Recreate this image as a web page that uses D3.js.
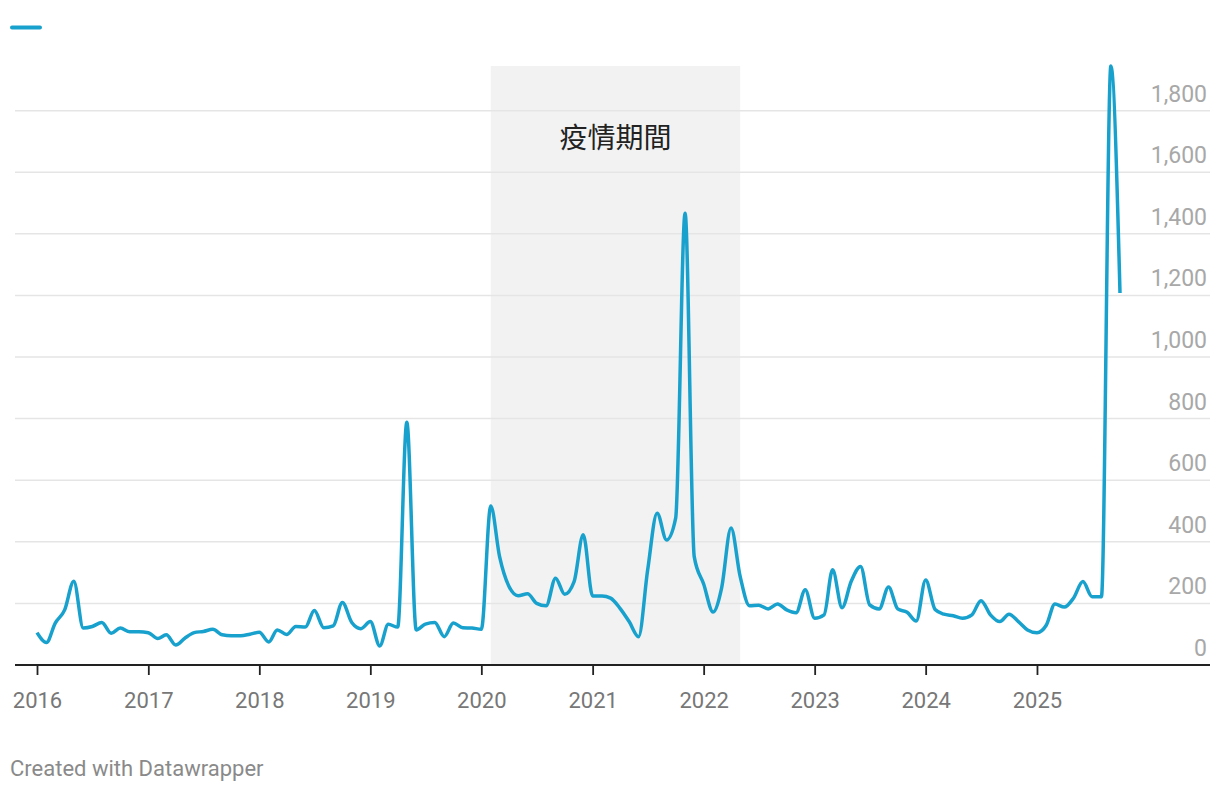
<!DOCTYPE html>
<html>
<head>
<meta charset="utf-8">
<script src="https://cdn.jsdelivr.net/npm/d3@7"></script>
<style>
  body { margin: 0; background: #fff; }
  svg { display: block; font-family: Roboto, "Noto Sans CJK TC", sans-serif; }
</style>
</head>
<body>
<svg id="chart" width="1220" height="792"></svg>
<script>
var years = [2016, 2017, 2018, 2019, 2020, 2021, 2022, 2023, 2024, 2025];

// monthly values, Jan 2016 .. Oct 2025
var values2016 = [105, 73, 136, 179, 272, 120, 125, 138, 103, 120, 108, 108];
var values2017 = [105, 86, 98, 65, 87, 105, 109, 116, 98, 95, 95, 100];
var values2018 = [106, 75, 114, 99, 125, 123, 177, 121, 127, 203, 138, 118];
var values2019 = [141, 62, 132, 123, 788, 114, 133, 138, 92, 136, 121, 120];
var values2020 = [116, 516, 352, 255, 225, 231, 200, 192, 282, 230, 271, 423];
var values2021 = [224, 224, 217, 184, 141, 92, 309, 493, 406, 477, 1467, 352];
var values2022 = [263, 172, 250, 445, 288, 192, 194, 182, 198, 179, 170, 244];
var values2023 = [152, 163, 309, 186, 271, 320, 195, 182, 253, 182, 171, 143];
var values2024 = [276, 180, 165, 160, 152, 163, 209, 163, 141, 165, 141, 114];
var values2025 = [105, 130, 198, 188, 217, 271, 222, 222, 1945, 1208];

var yTicks = [0, 200, 400, 600, 800, 1000, 1200, 1400, 1600, 1800];

var pandemicStart = new Date(2020, 1, 1);
var pandemicEnd = new Date(2022, 4, 1);
var pandemicLabel = "疫情期間";

var blue = "#18a1cd";

function buildData() {
  var all = [values2016, values2017, values2018, values2019, values2020,
             values2021, values2022, values2023, values2024, values2025];
  var data = [];
  for (var i = 0; i < all.length; i++) {
    for (var m = 0; m < all[i].length; m++) {
      data.push({date: new Date(years[i], m, 1), value: all[i][m]});
    }
  }
  return data;
}

function drawChart() {
  var data = buildData();
  var svg = d3.select("#chart");

  var left = 15, right = 1210, top = 66, bottom = 665;

  var x = d3.scaleTime()
    .domain([data[0].date, data[data.length - 1].date])
    .range([37, 1120]);

  var y = d3.scaleLinear()
    .domain([0, d3.max(data, function(d){ return d.value; })])
    .range([bottom, top]);

  // highlighted range
  svg.append("rect")
    .attr("x", x(pandemicStart))
    .attr("y", top)
    .attr("width", x(pandemicEnd) - x(pandemicStart))
    .attr("height", bottom - top)
    .attr("fill", "#f2f2f2");

  svg.append("text")
    .attr("x", (x(pandemicStart) + x(pandemicEnd)) / 2)
    .attr("y", 148)
    .attr("text-anchor", "middle")
    .attr("font-size", 28)
    .attr("fill", "#222")
    .attr("font-family", "'Noto Sans CJK TC', sans-serif")
    .text(pandemicLabel);

  // grid + right labels
  var grid = svg.append("g");
  grid.selectAll("line")
    .data(yTicks.filter(function(d){ return d > 0; }))
    .enter()
    .append("line")
    .attr("x1", left)
    .attr("x2", right)
    .attr("y1", function(d){ return y(d); })
    .attr("y2", function(d){ return y(d); })
    .attr("stroke", "#e5e5e5")
    .attr("stroke-width", 1.5);

  grid.selectAll("text")
    .data(yTicks)
    .enter()
    .append("text")
    .attr("x", 1207)
    .attr("y", function(d){ return y(d) - 9; })
    .attr("text-anchor", "end")
    .attr("font-size", 23)
    .attr("fill", "#a8a8a8")
    .text(function(d){ return d3.format(",")(d); });

  // x axis
  var xAxis = d3.axisBottom(x)
    .tickValues(years.map(function(yr){ return new Date(yr, 0, 1); }))
    .tickFormat(d3.timeFormat("%Y"))
    .tickSize(10)
    .tickSizeOuter(0)
    .tickPadding(17);

  var ax = svg.append("g")
    .attr("transform", "translate(0," + bottom + ")")
    .call(xAxis);
  ax.select(".domain").remove();
  ax.selectAll(".tick line").attr("stroke", "#222").attr("stroke-width", 1.8);
  ax.selectAll(".tick text")
    .attr("font-size", 22)
    .attr("fill", "#777")
    .attr("font-family", "Roboto, sans-serif");

  svg.append("line")
    .attr("x1", left)
    .attr("x2", right)
    .attr("y1", bottom)
    .attr("y2", bottom)
    .attr("stroke", "#222")
    .attr("stroke-width", 2);

  // the line
  var line = d3.line()
    .x(function(d){ return x(d.date); })
    .y(function(d){ return y(d.value); })
    .curve(d3.curveMonotoneX);

  svg.append("path")
    .datum(data)
    .attr("d", line)
    .attr("fill", "none")
    .attr("stroke", blue)
    .attr("stroke-width", 3.5)
    .attr("stroke-linejoin", "round");

  // legend mark
  svg.append("line")
    .attr("x1", 12)
    .attr("x2", 40)
    .attr("y1", 27.5)
    .attr("y2", 27.5)
    .attr("stroke", blue)
    .attr("stroke-width", 4)
    .attr("stroke-linecap", "round");

  svg.append("text")
    .attr("x", 10)
    .attr("y", 776)
    .attr("font-size", 22)
    .attr("fill", "#8a8a8a")
    .text("Created with Datawrapper");
}

drawChart();
</script>
</body>
</html>
